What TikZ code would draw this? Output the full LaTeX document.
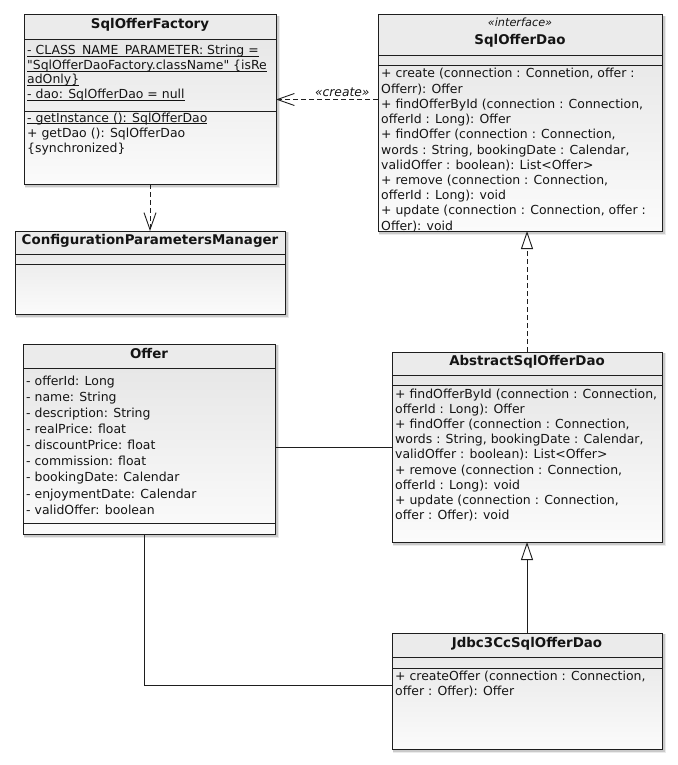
\documentclass[tikz,border=0pt]{standalone}
\usepackage{fontspec}
\setmainfont{DejaVu Sans}[Ligatures=TeXOff]
\usetikzlibrary{arrows.meta}
\definecolor{hdr}{HTML}{EBEBEB}
\definecolor{btop}{HTML}{E4E4E4}
\definecolor{bbot}{HTML}{FBFBFB}
\definecolor{edge}{HTML}{1E1E1E}
\newcount\txtcnt
\tikzset{
  classbox/.style={draw=none, inner sep=0pt, outer sep=0pt, anchor=north west, top color=btop, bottom color=bbot},
  sepline/.style={draw=edge, line width=0.9pt},
  txt/.style={anchor=base west, inner sep=0pt, text=black!92, font=\fontsize{12.45}{15}\selectfont},
  ttl/.style={anchor=base, inner sep=0pt, text=black!92, font=\fontsize{13.4}{15}\selectfont\bfseries},
  stereo/.style={anchor=base, inner sep=0pt, text=black!92, font=\fontsize{11.3}{15}\selectfont\itshape},
  crlabel/.style={inner sep=0pt, text=black!92, font=\fontsize{12.3}{15}\selectfont\itshape},
  conn/.style={draw=edge, line width=0.9pt},
  depend/.style={conn, dash pattern=on 5pt off 3pt, -{Straight Barb[length=17pt,width=12pt,line width=0.9pt]}},
  realize/.style={conn, dash pattern=on 5pt off 3pt, -{Triangle[length=18pt,width=12pt,fill=white,line width=0.9pt]}},
  generalize/.style={conn, -{Triangle[length=18pt,width=12pt,fill=white,line width=0.9pt]}},
}
\newcommand\umlclass[7]{%
  \fill[black,opacity=.08] (#2+1,#3+1) rectangle (#4+4,#5+4);
  \fill[black,opacity=.14] (#2+1,#3+1) rectangle (#4+2.5,#5+2.5);
  \node[classbox, minimum width={(#4-#2)*1pt}, minimum height={(#5-#3)*1pt}] (#1) at (#2,#3) {};
  \fill[hdr] (#2+.5,#3+.5) rectangle (#4-.5,#6);
  \draw[sepline] (#2,#6) -- (#4,#6) (#2,#7) -- (#4,#7);
  \draw[edge, line width=1pt] (#1.north west) rectangle (#1.south east);
}
\newcommand\tl[3]{\global\advance\txtcnt by 1 \node[txt] (t\the\txtcnt) at (#1,#2) {#3};}
\newcommand\ulin[1]{\setbox0\hbox{#1}\rlap{\rule[-2.2pt]{\wd0}{0.8pt}}\box0}
\begin{document}
\begin{tikzpicture}[x=1pt,y=-1pt]
\useasboundingbox (0,0) rectangle (677,765);

% ---------- SqlOfferFactory
\umlclass{factory}{24}{15}{276}{184}{39}{111}
\node[ttl] (factory-title) at (150,29) {SqlOfferFactory};
\tl{27}{55}{\ulin{- CLASS\_NAME\_PARAMETER: String =}}
\tl{27}{69.5}{\ulin{"SqlOfferDaoFactory.className" \{isRe}}
\tl{27}{84}{\ulin{adOnly\}}}
\tl{27}{98.5}{\ulin{- dao: SqlOfferDao = null}}
\tl{27}{122}{\ulin{- getInstance (): SqlOfferDao}}
\tl{27}{137}{+ getDao (): SqlOfferDao}
\tl{27}{152}{\{synchronized\}}

% ---------- SqlOfferDao
\umlclass{dao}{378}{15}{662}{231}{55}{65}
\node[stereo] (dao-stereo) at (520,27) {«interface»};
\node[ttl] (dao-title) at (520,44.5) {SqlOfferDao};
\begin{scope}
\clip (378,15) rectangle (662,230.5);
\tl{381}{78}{+ create (connection : Connetion, offer :}
\tl{381}{93.2}{Offerr): Offer}
\tl{381}{108.4}{+ findOfferById (connection : Connection,}
\tl{381}{123.6}{offerId : Long): Offer}
\tl{381}{138.8}{+ findOffer (connection : Connection,}
\tl{381}{154}{words : String, bookingDate : Calendar,}
\tl{381}{169.2}{validOffer : boolean): List<Offer>}
\tl{381}{184.4}{+ remove (connection : Connection,}
\tl{381}{199.6}{offerId : Long): void}
\tl{381}{214.8}{+ update (connection : Connection, offer :}
\tl{381}{230}{Offer): void}
\end{scope}

% ---------- ConfigurationParametersManager
\umlclass{config}{15}{231}{285}{314}{254}{264}
\node[ttl] (config-title) at (150,244) {ConfigurationParametersManager};

% ---------- Offer
\umlclass{offer}{23}{344}{275}{534}{368}{523}
\node[ttl] (offer-title) at (149,358.7) {Offer};
\tl{26}{385.3}{- offerId: Long}
\tl{26}{401.4}{- name: String}
\tl{26}{417.5}{- description: String}
\tl{26}{433.6}{- realPrice: float}
\tl{26}{449.7}{- discountPrice: float}
\tl{26}{465.8}{- commission: float}
\tl{26}{481.9}{- bookingDate: Calendar}
\tl{26}{498}{- enjoymentDate: Calendar}
\tl{26}{514.1}{- validOffer: boolean}

% ---------- AbstractSqlOfferDao
\umlclass{abstract}{392}{352}{662}{542}{375}{385}
\node[ttl] (abstract-title) at (527,365.3) {AbstractSqlOfferDao};
\tl{395}{398.5}{+ findOfferById (connection : Connection,}
\tl{395}{413.5}{offerId : Long): Offer}
\tl{395}{428.7}{+ findOffer (connection : Connection,}
\tl{395}{443.8}{words : String, bookingDate : Calendar,}
\tl{395}{458.9}{validOffer : boolean): List<Offer>}
\tl{395}{474}{+ remove (connection : Connection,}
\tl{395}{489.1}{offerId : Long): void}
\tl{395}{504.2}{+ update (connection : Connection,}
\tl{395}{519.3}{offer : Offer): void}

% ---------- Jdbc3CcSqlOfferDao
\umlclass{jdbc}{392}{633}{662}{749}{657}{668}
\node[ttl] (jdbc-title) at (527,647.3) {Jdbc3CcSqlOfferDao};
\tl{395}{680.7}{+ createOffer (connection : Connection,}
\tl{395}{695.7}{offer : Offer): Offer}

% ---------- connectors
\draw[depend] (dao.west |- factory.east) -- node[pos=0.35, crlabel, anchor=south, yshift=2pt] (create-label) {«create»} (factory.east);
\draw[depend] (factory.south) -- (factory.south |- config.north);
\draw[realize] (abstract.north) -- (abstract.north |- dao.south);
\draw[generalize] (jdbc.north) -- (abstract.south);
\draw[conn] (offer.east |- abstract.west) -- (abstract.west);
\coordinate (bend) at (144,685);
\draw[conn] (offer.south -| bend) -- (bend) -- (jdbc.west |- bend);
\end{tikzpicture}
\end{document}
